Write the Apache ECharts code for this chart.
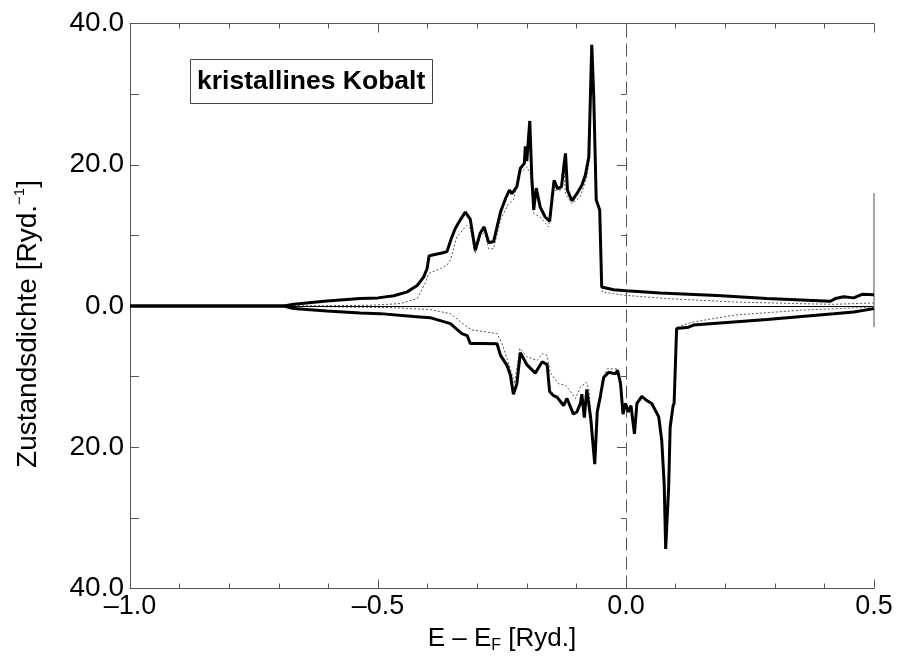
<!DOCTYPE html>
<html>
<head>
<meta charset="utf-8">
<script src="https://cdn.jsdelivr.net/npm/echarts@6/dist/echarts.min.js"></script>
<style>
  html, body { margin: 0; padding: 0; background: #fff; }
  #chart { width: 897px; height: 659px; }
</style>
</head>
<body>
<div id="chart"></div>
<script>
// Zustandsdichte von kristallinem Kobalt, Spin auf (positiv) und Spin ab (negativ)
const xTicks = [-1.0, -0.5, 0.0, 0.5];
const yTicks = [-40, -20, 0, 20, 40];

// Spin auf, Gesamt (dicke Linie)
const eUp = [-1.0, -0.69, -0.67, -0.603, -0.536, -0.5, -0.468, -0.441, -0.421, -0.408, -0.401, -0.397,
  -0.388, -0.371, -0.361, -0.352, -0.344, -0.334, -0.324, -0.314, -0.304, -0.294, -0.286, -0.277, -0.267,
  -0.253, -0.243, -0.235, -0.23, -0.22, -0.213, -0.205, -0.203, -0.2, -0.194, -0.19, -0.186, -0.181,
  -0.173, -0.163, -0.154, -0.145, -0.138, -0.13, -0.122, -0.118, -0.109, -0.099, -0.089, -0.082, -0.075,
  -0.069, -0.065, -0.06, -0.053, -0.049, -0.045, -0.025, 0.0, 0.069, 0.183, 0.284, 0.412, 0.422, 0.439,
  0.459, 0.476, 0.5];
const dosUp = [0, 0, 0.24, 0.7, 1.05, 1.15, 1.45, 2.0, 2.9, 4.1, 5.3, 7.1,
  7.25, 7.5, 7.7, 9.6, 11.0, 12.2, 13.3, 12.3, 7.9, 10.3, 11.2, 9.0, 9.1,
  13.3, 15.2, 16.4, 15.9, 16.9, 19.5, 20.2, 22.6, 20.5, 26.2, 18.3, 13.6, 16.7,
  14.0, 12.6, 12.0, 17.8, 16.6, 16.9, 21.6, 16.4, 14.9, 15.9, 17.1, 18.5, 21.1,
  37.0, 29.6, 15.0, 13.6, 2.7, 2.5, 2.3, 2.15, 1.85, 1.5, 1.05, 0.67, 1.05, 1.3,
  1.15, 1.65, 1.6];

// Spin auf, d-Anteil (punktiert)
const eUpD = [-1.0, -0.69, -0.6, -0.536, -0.502, -0.455, -0.421, -0.405, -0.398, -0.374, -0.361, -0.354,
  -0.341, -0.321, -0.314, -0.304, -0.294, -0.284, -0.277, -0.267, -0.253, -0.237, -0.227, -0.214, -0.2,
  -0.193, -0.186, -0.173, -0.156, -0.146, -0.132, -0.126, -0.122, -0.109, -0.092, -0.079, -0.073, -0.069,
  -0.065, -0.06, -0.053, -0.048, -0.025, 0.0, 0.083, 0.217, 0.351, 0.419, 0.5];
const dosUpD = [0, 0, 0.05, 0.08, 0.15, 0.35, 1.05, 3.2, 4.6, 5.3, 5.8, 6.5,
  9.8, 11.4, 11.0, 7.4, 9.8, 10.5, 8.1, 8.1, 12.2, 14.5, 15.0, 18.8, 19.7,
  18.8, 13.1, 12.6, 11.2, 16.4, 16.4, 20.7, 15.9, 14.5, 15.5, 18.3, 21.1, 37.0,
  29.6, 15.0, 13.6, 2.0, 1.75, 1.5, 1.05, 0.57, 0.33, 0.24, 0.43];

// Spin ab, Gesamt (dicke Linie)
const eDown = [-1.0, -0.69, -0.67, -0.603, -0.536, -0.496, -0.428, -0.395, -0.354, -0.331, -0.32, -0.314,
  -0.294, -0.26, -0.253, -0.24, -0.233, -0.227, -0.22, -0.213, -0.2, -0.183, -0.169, -0.159, -0.154,
  -0.146, -0.139, -0.129, -0.126, -0.119, -0.106, -0.099, -0.092, -0.089, -0.084, -0.079, -0.075, -0.071,
  -0.063, -0.058, -0.052, -0.045, -0.035, -0.021, -0.017, -0.011, -0.006, -0.001, 0.005, 0.01, 0.017,
  0.022, 0.032, 0.042, 0.052, 0.066, 0.072, 0.077, 0.08, 0.086, 0.089, 0.095, 0.097, 0.102, 0.126,
  0.136, 0.19, 0.284, 0.419, 0.459, 0.5];
const dosDown = [0, 0, -0.37, -0.7, -1.0, -1.08, -1.5, -1.65, -2.5, -3.9, -4.2, -5.3,
  -5.3, -5.35, -7.0, -8.4, -9.8, -12.5, -11.0, -6.6, -8.3, -9.5, -7.9, -8.3, -12.1,
  -12.7, -12.9, -13.8, -14.1, -13.1, -15.3, -15.0, -13.8, -12.5, -15.8, -11.8, -11.7, -16.0,
  -22.4, -15.0, -12.9, -10.1, -9.4, -9.6, -9.1, -11.0, -15.3, -13.8, -15.0, -14.1, -18.1,
  -13.8, -12.8, -13.4, -13.8, -15.7, -19.0, -25.2, -34.4, -25.7, -17.2, -14.1, -13.8, -3.2, -3.0,
  -2.7, -2.4, -1.9, -1.1, -0.85, -0.37];

// Spin ab, d-Anteil (punktiert)
const eDownD = [-1.0, -0.69, -0.569, -0.468, -0.428, -0.395, -0.354, -0.32, -0.31, -0.26, -0.25, -0.23,
  -0.225, -0.214, -0.2, -0.179, -0.169, -0.159, -0.153, -0.136, -0.122, -0.109, -0.102, -0.092, -0.08,
  -0.075, -0.071, -0.063, -0.058, -0.052, -0.045, -0.038, -0.019, -0.011, -0.006, -0.001, 0.005, 0.01,
  0.017, 0.022, 0.032, 0.042, 0.052, 0.066, 0.072, 0.077, 0.08, 0.086, 0.089, 0.095, 0.097, 0.103, 0.133,
  0.217, 0.351, 0.5];
const dosDownD = [0, 0, -0.14, -0.23, -0.4, -0.5, -1.08, -3.0, -3.4, -3.9, -5.3, -9.6,
  -11.0, -6.0, -7.2, -7.7, -6.75, -7.0, -9.4, -11.0, -11.2, -12.4, -13.1, -11.5, -10.8,
  -11.7, -15.5, -22.4, -14.8, -12.9, -10.1, -8.9, -8.9, -11.0, -15.3, -13.8, -15.0, -14.1,
  -18.1, -13.8, -12.8, -13.4, -13.8, -15.7, -19.0, -25.2, -34.4, -25.7, -17.2, -14.1, -13.8, -3.0, -2.3,
  -1.3, -0.6, -0.14];

// Kurzer senkrechter Strich am rechten Rand
const edgeMark = [[0.5, 16], [0.5, -3]];

const zip = (xs, ys) => xs.map((x, i) => [x, ys[i]]);

const FONT = 'Liberation Sans';
const AXIS = '#555';

const chart = echarts.init(document.getElementById('chart'), null, { renderer: 'canvas' });

const xFmt = v => (v < 0 ? '\u2013' : '') + Math.abs(v).toFixed(1);
const yFmt = v => Math.abs(v).toFixed(1);

chart.setOption({
  animation: false,
  backgroundColor: '#fff',
  title: {
    text: 'kristallines Kobalt',
    left: 190,
    top: 59,
    padding: [9, 7, 9, 7],
    borderColor: '#444',
    borderWidth: 1,
    textStyle: { fontFamily: FONT, fontWeight: 'bold', fontSize: 26.5, color: '#000', lineHeight: 27 }
  },
  grid: { left: 130, right: 23, top: 23.5, bottom: 70.5, containLabel: false },
  xAxis: [{
    type: 'value',
    min: xTicks[0],
    max: xTicks[xTicks.length - 1],
    interval: 0.5,
    position: 'bottom',
    axisLine: { show: true, onZero: false, lineStyle: { color: AXIS, width: 1 } },
    axisTick: { show: true, inside: true, length: 9, lineStyle: { color: AXIS } },
    minorTick: { show: true, splitNumber: 5, length: 5, lineStyle: { color: AXIS } },
    splitLine: { show: false },
    axisLabel: { formatter: xFmt, fontFamily: FONT, fontSize: 27, color: '#000', margin: 5 },
    name: '{a|E \u2013 E}{s|F}{a| [Ryd.]}',
    nameLocation: 'middle',
    nameGap: 36,
    nameTextStyle: {
      rich: {
        a: { fontFamily: FONT, fontSize: 26, color: '#000', lineHeight: 28, verticalAlign: 'top' },
        s: { fontFamily: FONT, fontSize: 16, color: '#000', lineHeight: 28, verticalAlign: 'bottom', padding: [9, 0, 0, 0] }
      }
    }
  }, {
    type: 'value',
    min: xTicks[0],
    max: xTicks[xTicks.length - 1],
    interval: 0.5,
    position: 'top',
    axisLine: { show: true, onZero: false, lineStyle: { color: AXIS, width: 1 } },
    axisTick: { show: true, inside: true, length: 9, lineStyle: { color: AXIS } },
    minorTick: { show: true, splitNumber: 5, length: 5, lineStyle: { color: AXIS } },
    splitLine: { show: false },
    axisLabel: { show: false }
  }],
  yAxis: [{
    type: 'value',
    min: yTicks[0],
    max: yTicks[yTicks.length - 1],
    interval: 20,
    position: 'left',
    axisLine: { show: true, onZero: false, lineStyle: { color: AXIS, width: 1 } },
    axisTick: { show: true, inside: true, length: 9, lineStyle: { color: AXIS } },
    minorTick: { show: true, splitNumber: 2, length: 9, lineStyle: { color: AXIS } },
    splitLine: { show: false },
    axisLabel: { formatter: yFmt, fontFamily: FONT, fontSize: 28, color: '#000', margin: 6 },
    name: '{a|Zustandsdichte [Ryd.}{s|\u22121}{a|]}',
    nameLocation: 'middle',
    nameGap: 88,
    nameRotate: 90,
    nameTextStyle: {
      padding: [0, 36, 0, 0],
      rich: {
        a: { fontFamily: FONT, fontSize: 28, color: '#000', lineHeight: 30, verticalAlign: 'bottom' },
        s: { fontFamily: FONT, fontSize: 15, color: '#000', lineHeight: 30, verticalAlign: 'top' }
      }
    }
  }, {
    type: 'value',
    min: yTicks[0],
    max: yTicks[yTicks.length - 1],
    interval: 20,
    position: 'right',
    axisLine: { show: false },
    axisTick: { show: true, inside: true, length: 9, lineStyle: { color: AXIS } },
    minorTick: { show: true, splitNumber: 2, length: 5, lineStyle: { color: AXIS } },
    splitLine: { show: false },
    axisLabel: { show: false }
  }],
  series: [
    {
      name: 'Spin auf d',
      type: 'line',
      data: zip(eUpD, dosUpD),
      symbol: 'none',
      lineStyle: { color: '#555', width: 1, type: [2, 2] },
      z: 3
    },
    {
      name: 'Spin ab d',
      type: 'line',
      data: zip(eDownD, dosDownD),
      symbol: 'none',
      lineStyle: { color: '#555', width: 1, type: [2, 2] },
      z: 3
    },
    {
      name: 'Spin auf',
      type: 'line',
      data: zip(eUp, dosUp),
      symbol: 'none',
      lineStyle: { color: '#000', width: 3 },
      z: 5,
      markLine: {
        silent: true,
        symbol: 'none',
        label: { show: false },
        data: [
          [{ coord: [xTicks[0], 0], lineStyle: { color: '#000', width: 1, type: 'solid' } }, { coord: [xTicks[3], 0] }],
          [{ coord: [0, yTicks[0]], lineStyle: { color: '#555', width: 1, type: [13, 6] } }, { coord: [0, yTicks[4]] }],
          [{ coord: edgeMark[0], lineStyle: { color: '#888', width: 1.5, type: 'solid' } }, { coord: edgeMark[1] }]
        ]
      }
    },
    {
      name: 'Spin ab',
      type: 'line',
      data: zip(eDown, dosDown),
      symbol: 'none',
      lineStyle: { color: '#000', width: 3 },
      z: 5
    }
  ]
});
</script>
</body>
</html>
